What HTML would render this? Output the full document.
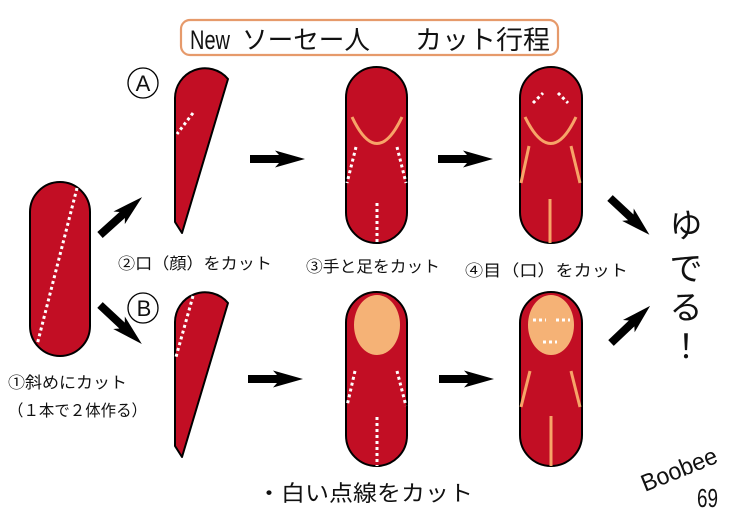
<!DOCTYPE html>
<html><head><meta charset="utf-8"><style>
html,body{margin:0;padding:0;background:#fff;}
svg{display:block;}
text{font-family:"Liberation Sans","Noto Sans CJK JP",sans-serif;fill:#111;}
</style></head><body>
<svg width="736" height="519" viewBox="0 0 736 519" xmlns="http://www.w3.org/2000/svg">
<defs>
  <g id="arr"><polygon points="0,-4 29,-4 25,-8.5 55,0 25,8.5 29,4 0,4" fill="#000"/></g>
</defs>

<!-- Title -->
<rect x="181" y="20" width="377" height="35" rx="9" fill="#fff" stroke="#e69a6b" stroke-width="2.2"/>
<text x="190" y="49" font-size="27" textLength="40" lengthAdjust="spacingAndGlyphs">New</text>
<text x="242" y="49" font-size="26" textLength="128" lengthAdjust="spacingAndGlyphs">ソーセー人</text>
<text x="415" y="49" font-size="26" textLength="135" lengthAdjust="spacingAndGlyphs">カット行程</text>

<!-- Left sausage -->
<rect x="30" y="182" width="60" height="174" rx="30" fill="#c20e24" stroke="#000" stroke-width="2"/>
<line x1="77" y1="188" x2="37" y2="345" stroke="#fff" stroke-width="3" stroke-dasharray="3 3"/>

<!-- A / B circles -->
<circle cx="143" cy="83" r="15" fill="none" stroke="#000" stroke-width="1.3"/>
<text x="143" y="91" font-size="22" text-anchor="middle">A</text>
<circle cx="143" cy="308" r="15" fill="none" stroke="#000" stroke-width="1.3"/>
<text x="144" y="316" font-size="22" text-anchor="middle">B</text>

<!-- Diagonal arrows from left -->
<use href="#arr" transform="translate(100,235) rotate(-42) scale(1.03,1)"/>
<use href="#arr" transform="translate(100,305) rotate(43) scale(1.04,1)"/>

<!-- Slice A -->
<path d="M228,79 A30,30 0 0 0 175,99 L175,222 L182,233 Z" fill="#c20e24" stroke="#000" stroke-width="2" stroke-linejoin="round"/>
<line x1="193" y1="113" x2="177" y2="134" stroke="#fff" stroke-width="3" stroke-dasharray="3 3"/>

<!-- Slice B -->
<path d="M228,303 A30,30 0 0 0 175,323 L175,446 L182,457 Z" fill="#c20e24" stroke="#000" stroke-width="2" stroke-linejoin="round"/>
<line x1="193" y1="296" x2="176" y2="357" stroke="#fff" stroke-width="3" stroke-dasharray="3 3"/>

<!-- Horizontal arrows -->
<use href="#arr" transform="translate(250,159)"/>
<use href="#arr" transform="translate(438,159)"/>
<use href="#arr" transform="translate(248,379)"/>
<use href="#arr" transform="translate(439,379)"/>

<!-- Top capsule ③ -->
<rect x="346" y="67" width="61" height="176" rx="30.5" fill="#c20e24" stroke="#000" stroke-width="2"/>
<path d="M352,117 Q377,170 402,117" fill="none" stroke="#f7a468" stroke-width="3"/>
<line x1="356" y1="147" x2="347" y2="183" stroke="#fff" stroke-width="3" stroke-dasharray="3 3"/>
<line x1="397" y1="147" x2="406" y2="183" stroke="#fff" stroke-width="3" stroke-dasharray="3 3"/>
<line x1="377" y1="203" x2="377" y2="243" stroke="#fff" stroke-width="3" stroke-dasharray="3 3"/>

<!-- Top capsule ④ -->
<rect x="520" y="67" width="62" height="176" rx="31" fill="#c20e24" stroke="#000" stroke-width="2"/>
<path d="M525,117 Q551,170 576,117" fill="none" stroke="#f7a468" stroke-width="3"/>
<line x1="533" y1="103" x2="543" y2="93" stroke="#fff" stroke-width="3" stroke-dasharray="3 3"/>
<line x1="558" y1="93" x2="568" y2="103" stroke="#fff" stroke-width="3" stroke-dasharray="3 3"/>
<line x1="529" y1="146" x2="521" y2="183" stroke="#f7a468" stroke-width="3"/>
<line x1="571" y1="146" x2="580" y2="183" stroke="#f7a468" stroke-width="3"/>
<line x1="550" y1="199" x2="550" y2="243" stroke="#f7a468" stroke-width="3"/>

<!-- Bottom capsule B2 -->
<rect x="346" y="292" width="61" height="174" rx="30.5" fill="#c20e24" stroke="#000" stroke-width="2"/>
<ellipse cx="377" cy="325" rx="23" ry="30" fill="#f5b276"/>
<line x1="355" y1="371" x2="347" y2="406" stroke="#fff" stroke-width="3" stroke-dasharray="3 3"/>
<line x1="397" y1="371" x2="406" y2="406" stroke="#fff" stroke-width="3" stroke-dasharray="3 3"/>
<line x1="377" y1="417" x2="377" y2="466" stroke="#fff" stroke-width="3" stroke-dasharray="3 3"/>

<!-- Bottom capsule B3 -->
<rect x="520" y="292" width="62" height="174" rx="31" fill="#c20e24" stroke="#000" stroke-width="2"/>
<ellipse cx="551" cy="325" rx="23" ry="30" fill="#f5b276"/>
<line x1="533" y1="320" x2="546" y2="320" stroke="#fff" stroke-width="3" stroke-dasharray="3 3"/>
<line x1="556" y1="320" x2="570" y2="320" stroke="#fff" stroke-width="3" stroke-dasharray="3 3"/>
<line x1="543" y1="342" x2="557" y2="342" stroke="#fff" stroke-width="3" stroke-dasharray="3 3"/>
<line x1="530" y1="371" x2="521" y2="407" stroke="#f7a468" stroke-width="3"/>
<line x1="571" y1="371" x2="580" y2="407" stroke="#f7a468" stroke-width="3"/>
<line x1="551" y1="416" x2="551" y2="466" stroke="#f7a468" stroke-width="3"/>

<!-- Right arrows -->
<use href="#arr" transform="translate(610,198) rotate(43) scale(0.98,1)"/>
<use href="#arr" transform="translate(611,343) rotate(-43.5) scale(0.98,1)"/>

<!-- Captions -->
<text x="118" y="269" font-size="16" textLength="154" lengthAdjust="spacingAndGlyphs">②口（顔）をカット</text>
<text x="306" y="272" font-size="16" textLength="134" lengthAdjust="spacingAndGlyphs">③手と足をカット</text>
<text x="465" y="276" font-size="16" textLength="163" lengthAdjust="spacingAndGlyphs">④目（口）をカット</text>
<text x="8" y="388" font-size="16" textLength="119" lengthAdjust="spacingAndGlyphs">①斜めにカット</text>
<text x="8" y="416" font-size="16" textLength="139" lengthAdjust="spacingAndGlyphs">（１本で２体作る）</text>

<!-- ゆでる！ -->
<text x="686" y="237" font-size="33" text-anchor="middle">ゆ</text>
<text x="686" y="280" font-size="33" text-anchor="middle">で</text>
<text x="686" y="319" font-size="33" text-anchor="middle">る</text>
<text x="686" y="358" font-size="33" text-anchor="middle">！</text>

<!-- Bottom note -->
<text x="257" y="501" font-size="22" textLength="216" lengthAdjust="spacingAndGlyphs">・白い点線をカット</text>

<!-- Signature -->
<text x="645" y="492" font-size="24" textLength="80" lengthAdjust="spacingAndGlyphs" transform="rotate(-22 645 492)">Boobee</text>
<text x="697" y="507" font-size="26" textLength="21" lengthAdjust="spacingAndGlyphs">69</text>
</svg>
</body></html>
